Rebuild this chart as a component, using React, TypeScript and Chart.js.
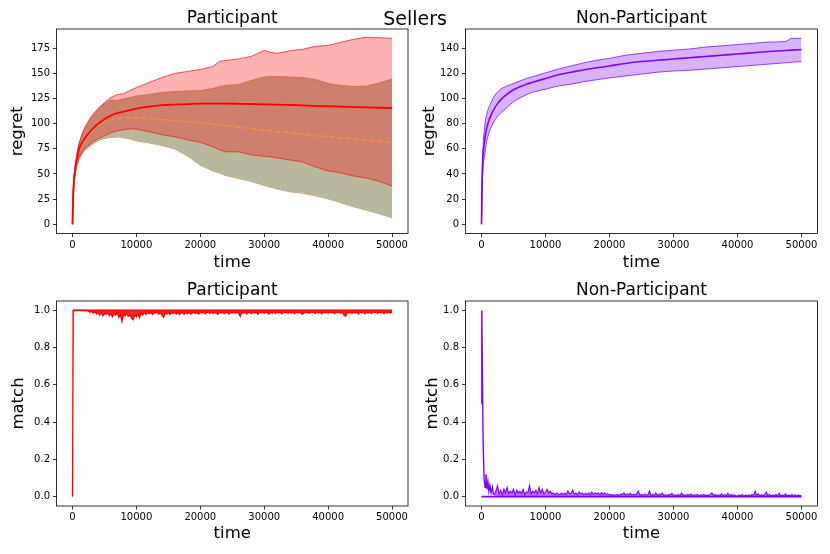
import React, { useEffect, useRef } from "react";
import { Chart, registerables } from "chart.js";

Chart.register(...registerables);

const FONT = "'DejaVu Sans', 'Liberation Sans', sans-serif";

// ---------- tick labels ----------
const timeTicks = [0, 10000, 20000, 30000, 40000, 50000];
const partRegretTicks = [0, 25, 50, 75, 100, 125, 150, 175];
const nonRegretTicks = [0, 20, 40, 60, 80, 100, 120, 140];
const matchTicks = [0, 0.2, 0.4, 0.6, 0.8, 1.0];

// ---------- Participant regret ----------
const regretTimes = [0, 100, 250, 500, 750, 1000, 1500, 2000, 3000, 4000, 5000, 6000, 7000, 8000, 9000, 10000, 12000, 14000, 16000, 18000, 20000, 22000, 23000, 24000, 26000, 28000, 30000, 31000, 32000, 34000, 36000, 38000, 40000, 42000, 44000, 46000, 48000, 50000];
const partMeanRegret = [0, 28, 45, 58, 66, 74, 81, 86, 94, 100, 104.5, 108, 110.5, 112, 113.5, 115, 117, 118.5, 119, 119.5, 120, 120, 120, 120, 119.8, 119.6, 119.3, 119.1, 119, 118.6, 118.2, 117.8, 117.4, 117, 116.6, 116.2, 115.9, 115.5];
const partUpperRegret = [0, 30, 48, 62, 72, 80, 90, 97, 108, 115, 121, 126, 129, 130, 133, 136, 141, 146, 150, 152, 154, 157, 162, 163, 164.5, 167, 173, 171, 170, 172.5, 174, 177, 178, 181, 184, 186, 185.5, 185];
const partLowerRegret = [0, 25, 42, 54, 61, 66, 72, 76, 81, 85, 88, 91, 93, 94, 95, 94.5, 92, 89, 87, 84, 81.5, 77, 74, 72, 72, 69, 67.5, 67, 66, 64, 62, 57, 53, 51, 48, 46, 42.5, 38];
const altMeanRegret = [0, 27, 44, 57, 65, 71, 78, 84, 92, 98, 102, 104, 105.5, 106, 106, 106, 105, 104, 103, 102, 101, 99.5, 99, 98, 96.5, 95, 93.5, 93, 92, 91, 89.5, 88, 87, 86, 85, 83.5, 82.5, 81];
const altUpperRegret = [0, 30, 47, 61, 71, 79, 89, 96, 106, 114, 120, 123.5, 123, 124.5, 126, 127.5, 129, 131, 132, 132.5, 133, 135, 137, 138, 139, 143, 146.5, 147, 147, 146.5, 146, 144, 140, 138, 137, 137.5, 140.5, 144.5];
const altLowerRegret = [0, 24, 40, 52, 59, 64, 70, 74, 79, 83, 85.5, 86.5, 87, 86, 85, 83, 81, 78.5, 75, 68, 59, 53, 51, 48.5, 45.5, 42.5, 38.5, 37, 35, 32.5, 31, 28.5, 25.5, 21.5, 17.5, 14, 10.5, 6.5];

// ---------- Non-Participant regret ----------
const nonTimes = [0, 100, 250, 500, 750, 1000, 1500, 2000, 2500, 3000, 4000, 5000, 6000, 7000, 8000, 10000, 12000, 14000, 16000, 18000, 20000, 22500, 25000, 27500, 30000, 32500, 35000, 37500, 40000, 42500, 45000, 47500, 48500, 50000];
const nonMeanRegret = [0, 35, 55, 67, 75, 80, 87, 92, 96, 99, 103.5, 107, 109.5, 111.5, 113, 116, 119, 121, 123, 124.5, 126, 128, 129.5, 130.5, 131.5, 132.5, 133.5, 134.5, 135.5, 136.5, 137.5, 138.3, 138.6, 139];
const nonUpperRegret = [0, 40, 62, 78, 86, 91, 97, 102, 105, 107.5, 110, 112, 114, 116, 117.5, 120.5, 123.5, 126, 128.5, 130.5, 132, 134.5, 136, 137.5, 138.5, 139.5, 141, 142, 143, 144, 145, 145.5, 148, 148];
const nonLowerRegret = [0, 28, 45, 55, 64, 70, 77, 82, 86, 88.5, 93, 97.5, 100.5, 103, 105, 107.5, 110, 111.5, 113.5, 115, 116.5, 118, 119.5, 121, 122, 122.5, 123.5, 124.5, 125.5, 126.5, 127.5, 128.5, 129, 129.5];

// ---------- match series ----------
const matchTimes = [
  2000, 2250, 2500, 2750, 3000, 3250, 3500, 3750,
  4000, 4250, 4500, 4750, 5000, 5250, 5500, 5750,
  6000, 6250, 6500, 6750, 7000, 7250, 7500, 7750,
  8000, 8250, 8500, 8750, 9000, 9250, 9500, 9750,
  10000, 10250, 10500, 10750, 11000, 11250, 11500, 11750,
  12000, 12250, 12500, 12750, 13000, 13250, 13500, 13750,
  14000, 14250, 14500, 14750, 15000, 15250, 15500, 15750,
  16000, 16250, 16500, 16750, 17000, 17250, 17500, 17750,
  18000, 18250, 18500, 18750, 19000, 19250, 19500, 19750,
  20000, 20250, 20500, 20750, 21000, 21250, 21500, 21750,
  22000, 22250, 22500, 22750, 23000, 23250, 23500, 23750,
  24000, 24250, 24500, 24750, 25000, 25250, 25500, 25750,
  26000, 26250, 26500, 26750, 27000, 27250, 27500, 27750,
  28000, 28250, 28500, 28750, 29000, 29250, 29500, 29750,
  30000, 30250, 30500, 30750, 31000, 31250, 31500, 31750,
  32000, 32250, 32500, 32750, 33000, 33250, 33500, 33750,
  34000, 34250, 34500, 34750, 35000, 35250, 35500, 35750,
  36000, 36250, 36500, 36750, 37000, 37250, 37500, 37750,
  38000, 38250, 38500, 38750, 39000, 39250, 39500, 39750,
  40000, 40250, 40500, 40750, 41000, 41250, 41500, 41750,
  42000, 42250, 42500, 42750, 43000, 43250, 43500, 43750,
  44000, 44250, 44500, 44750, 45000, 45250, 45500, 45750,
  46000, 46250, 46500, 46750, 47000, 47250, 47500, 47750,
  48000, 48250, 48500, 48750, 49000, 49250, 49500, 49750,
  50000,
];

const partMatchStartTimes = [0, 120, 1000];
const partMatchStart = [0, 1, 1];
const partMatch = [
  0.999, 0.998, 0.997, 0.99, 0.995, 0.985, 0.993, 0.98,
  0.99, 0.975, 0.988, 0.97, 0.985, 0.978, 0.99, 0.972,
  0.984, 0.965, 0.982, 0.975, 0.988, 0.962, 0.978, 0.94,
  0.98, 0.97, 0.985, 0.968, 0.975, 0.96, 0.95, 0.978,
  0.965, 0.98, 0.96, 0.985, 0.975, 0.99, 0.978, 0.988,
  0.982, 0.99, 0.978, 0.988, 0.985, 0.99, 0.98, 0.987,
  0.975, 0.962, 0.985, 0.98, 0.99, 0.978, 0.988, 0.983,
  0.99, 0.98, 0.987, 0.978, 0.99, 0.984, 0.979, 0.99,
  0.982, 0.99, 0.98, 0.986, 0.99, 0.983, 0.988, 0.98,
  0.99, 0.985, 0.99, 0.982, 0.988, 0.99, 0.984, 0.99,
  0.983, 0.99, 0.985, 0.978, 0.99, 0.986, 0.99, 0.982,
  0.988, 0.99, 0.98, 0.99, 0.986, 0.99, 0.984, 0.99,
  0.985, 0.968, 0.99, 0.984, 0.99, 0.98, 0.988, 0.99,
  0.982, 0.99, 0.986, 0.99, 0.979, 0.99, 0.987, 0.99,
  0.984, 0.99, 0.988, 0.98, 0.99, 0.986, 0.99, 0.983,
  0.99, 0.987, 0.99, 0.981, 0.99, 0.988, 0.99, 0.984,
  0.99, 0.986, 0.99, 0.982, 0.99, 0.988, 0.99, 0.985,
  0.978, 0.99, 0.987, 0.99, 0.984, 0.99, 0.988, 0.99,
  0.983, 0.99, 0.986, 0.99, 0.98, 0.99, 0.988, 0.99,
  0.985, 0.99, 0.987, 0.99, 0.982, 0.99, 0.988, 0.99,
  0.984, 0.99, 0.975, 0.968, 0.99, 0.986, 0.99, 0.983,
  0.99, 0.985, 0.99, 0.98, 0.99, 0.987, 0.99, 0.982,
  0.99, 0.986, 0.99, 0.983, 0.99, 0.988, 0.99, 0.984,
  0.99, 0.987, 0.99, 0.982, 0.99, 0.986, 0.99, 0.985,
  0.99,
];
const partMatchUpperTimes = [120, 50000];
const partMatchUpper = [1, 1];

const nonMatchEarlyTimes = [0, 50, 250, 400, 550, 700, 850, 1000, 1150, 1300, 1500, 1700, 1850, 2000];
const nonMatchEarly = [0.5, 1.0, 0.3, 0.1, 0.05, 0.12, 0.04, 0.08, 0.03, 0.06, 0.02, 0.05, 0.015, 0.01];
const nonMatch = [
  0.01, 0.03, 0.06, 0.015, 0.035, 0.01, 0.04, 0.02,
  0.05, 0.015, 0.03, 0.02, 0.04, 0.01, 0.035, 0.02,
  0.03, 0.015, 0.04, 0.01, 0.025, 0.02, 0.06, 0.015,
  0.03, 0.02, 0.035, 0.015, 0.05, 0.02, 0.04, 0.015,
  0.025, 0.04, 0.02, 0.03, 0.015, 0.02, 0.01, 0.02,
  0.015, 0.01, 0.02, 0.012, 0.018, 0.01, 0.03, 0.015,
  0.02, 0.035, 0.012, 0.02, 0.01, 0.025, 0.015, 0.02,
  0.01, 0.018, 0.012, 0.02, 0.01, 0.025, 0.012, 0.02,
  0.015, 0.02, 0.01, 0.022, 0.012, 0.02, 0.01, 0.015,
  0.008, 0.012, 0.006, 0.01, 0.008, 0.012, 0.006, 0.015,
  0.01, 0.02, 0.008, 0.015, 0.01, 0.018, 0.008, 0.012,
  0.01, 0.015, 0.03, 0.008, 0.012, 0.006, 0.015, 0.008,
  0.01, 0.03, 0.006, 0.012, 0.008, 0.02, 0.006, 0.015,
  0.008, 0.02, 0.006, 0.01, 0.005, 0.012, 0.008, 0.018,
  0.006, 0.01, 0.005, 0.012, 0.006, 0.02, 0.008, 0.01,
  0.005, 0.012, 0.006, 0.015, 0.005, 0.01, 0.008, 0.012,
  0.005, 0.01, 0.006, 0.012, 0.005, 0.008, 0.006, 0.012,
  0.02, 0.006, 0.012, 0.005, 0.01, 0.006, 0.015, 0.005,
  0.01, 0.006, 0.018, 0.005, 0.012, 0.006, 0.01, 0.005,
  0.003, 0.008, 0.004, 0.012, 0.003, 0.008, 0.005, 0.01,
  0.004, 0.012, 0.005, 0.03, 0.006, 0.015, 0.004, 0.01,
  0.005, 0.012, 0.025, 0.006, 0.012, 0.004, 0.01, 0.005,
  0.012, 0.004, 0.018, 0.005, 0.01, 0.004, 0.015, 0.005,
  0.008, 0.004, 0.012, 0.005, 0.01, 0.004, 0.008, 0.005,
  0.008,
];
const nonMatchLowerTimes = [0, 50000];
const nonMatchLower = [0, 0];

// ---------- helpers ----------
const pts = (xs: number[], ys: number[]) => xs.map((x, i) => ({ x, y: ys[i] }));

const framePlugin = {
  id: "frame",
  afterDraw(chart: any) {
    const { ctx, chartArea: a } = chart;
    ctx.save();
    ctx.strokeStyle = "#000";
    ctx.lineWidth = 0.8;
    ctx.strokeRect(a.left, a.top, a.right - a.left, a.bottom - a.top);
    ctx.restore();
  },
};

const tickGrid = {
  display: true,
  drawOnChartArea: false,
  drawTicks: true,
  tickLength: 3.5,
  tickWidth: 0.8,
  tickColor: "#000",
  color: "#000",
};

function xScale(axisH: number, titlePadBottom: number) {
  return {
    type: "linear",
    min: -2500,
    max: 52500,
    afterBuildTicks: (s: any) => {
      s.ticks = timeTicks.map((v) => ({ value: v }));
    },
    afterFit: (s: any) => {
      s.height = axisH;
      s.paddingLeft = 0;
      s.paddingRight = 0;
    },
    ticks: {
      callback: (v: any) => String(v),
      font: { family: FONT, size: 10 },
      color: "#000",
      padding: 2,
      autoSkip: false,
      maxRotation: 0,
    },
    grid: tickGrid,
    border: { display: false },
    title: {
      display: true,
      text: "time",
      font: { family: FONT, size: 16.5 },
      color: "#000",
      padding: { top: 0, bottom: titlePadBottom },
    },
  };
}

function yScale(min: number, max: number, ticks: number[], fmt: (v: number) => string, axisW: number, label: string, titlePadTop: number) {
  return {
    type: "linear",
    min,
    max,
    afterBuildTicks: (s: any) => {
      s.ticks = ticks.map((v) => ({ value: v }));
    },
    afterFit: (s: any) => {
      s.width = axisW;
      s.paddingTop = 0;
      s.paddingBottom = 0;
    },
    ticks: {
      callback: (v: any) => fmt(Number(v)),
      font: { family: FONT, size: 10 },
      color: "#000",
      padding: 3,
      autoSkip: false,
    },
    grid: tickGrid,
    border: { display: false },
    title: {
      display: true,
      text: label,
      font: { family: FONT, size: 16.5 },
      color: "#000",
      padding: { top: titlePadTop, bottom: 0 },
    },
  };
}

function baseOptions(title: string, titlePad: { top: number; bottom: number }, rightPad: number, x: any, y: any) {
  return {
    responsive: false,
    animation: false,
    events: [],
    layout: { padding: { left: 0, right: rightPad, top: 0, bottom: 0 } },
    plugins: {
      legend: { display: false },
      tooltip: { enabled: false },
      title: {
        display: true,
        text: title,
        fullSize: false,
        color: "#000",
        font: { family: FONT, size: 17, weight: "normal" },
        padding: titlePad,
      },
    },
    elements: { point: { radius: 0 }, line: { tension: 0 } },
    scales: { x, y },
  };
}

const RED = "#ff0000";
const PURPLE = "#7f00ff";

function partRegretConfig(): any {
  return {
    type: "line",
    data: {
      datasets: [
        { data: pts(regretTimes, partMeanRegret), borderColor: RED, borderWidth: 1.8, fill: false, order: 1, cubicInterpolationMode: "monotone" },
        { data: pts(regretTimes, altMeanRegret), borderColor: "#ff8c3a", borderWidth: 1.5, borderDash: [5.5, 2.4], fill: false, order: 2, cubicInterpolationMode: "monotone" },
        { data: pts(regretTimes, partUpperRegret), borderColor: "rgba(240,40,40,0.8)", borderWidth: 1, backgroundColor: "rgba(255,0,0,0.3)", fill: "+1", order: 5 },
        { data: pts(regretTimes, partLowerRegret), borderColor: "rgba(240,40,40,0.8)", borderWidth: 1, fill: false, order: 5 },
        { data: pts(regretTimes, altUpperRegret), borderColor: "rgba(200,155,105,0.9)", borderWidth: 1.2, backgroundColor: "rgb(184,184,157)", fill: "+1", order: 9 },
        { data: pts(regretTimes, altLowerRegret), borderColor: "rgba(200,155,105,0.9)", borderWidth: 1.2, fill: false, order: 9 },
      ],
    },
    options: baseOptions(
      "Participant",
      { top: 7.9, bottom: 0.7 },
      7,
      xScale(43.5, 4.5),
      yScale(-9.25, 194.25, partRegretTicks, (v) => String(v), 56.5, "regret", 8)
    ),
    plugins: [framePlugin],
  };
}

function nonRegretConfig(): any {
  return {
    type: "line",
    data: {
      datasets: [
        { data: pts(nonTimes, nonMeanRegret), borderColor: PURPLE, borderWidth: 1.6, fill: false, order: 1, cubicInterpolationMode: "monotone" },
        { data: pts(nonTimes, nonUpperRegret), borderColor: "rgba(127,0,255,0.75)", borderWidth: 1, backgroundColor: "rgba(127,0,255,0.3)", fill: "+1", order: 5, cubicInterpolationMode: "monotone" },
        { data: pts(nonTimes, nonLowerRegret), borderColor: "rgba(127,0,255,0.75)", borderWidth: 1, fill: false, order: 5, cubicInterpolationMode: "monotone" },
      ],
    },
    options: baseOptions(
      "Non-Participant",
      { top: 7.9, bottom: 0.7 },
      12.5,
      xScale(43.5, 4.5),
      yScale(-7.4, 155.4, nonRegretTicks, (v) => String(v), 50.5, "regret", 4.5)
    ),
    plugins: [framePlugin],
  };
}

function partMatchConfig(): any {
  return {
    type: "line",
    data: {
      datasets: [
        { data: pts(partMatchStartTimes.concat(matchTimes), partMatchStart.concat(partMatch)), borderColor: RED, borderWidth: 1.3, backgroundColor: "rgba(255,0,0,0.85)", fill: { value: 1 }, order: 1 },
        { data: pts(partMatchUpperTimes, partMatchUpper), borderColor: RED, borderWidth: 1.8, fill: false, order: 2 },
      ],
    },
    options: baseOptions(
      "Participant",
      { top: 3.2, bottom: 0.4 },
      7,
      xScale(48, 10.5),
      yScale(-0.05, 1.05, matchTicks, (v) => v.toFixed(1), 56.5, "match", 8.8)
    ),
    plugins: [framePlugin],
  };
}

function nonMatchConfig(): any {
  return {
    type: "line",
    data: {
      datasets: [
        { data: pts(nonMatchEarlyTimes, nonMatchEarly), borderColor: PURPLE, borderWidth: 1.4, fill: false, order: 1 },
        { data: pts(matchTimes, nonMatch), borderColor: PURPLE, borderWidth: 1.1, backgroundColor: "rgba(127,0,255,0.55)", fill: { value: 0 }, order: 2 },
        { data: pts(nonMatchLowerTimes, nonMatchLower), borderColor: PURPLE, borderWidth: 1.8, fill: false, order: 3 },
      ],
    },
    options: baseOptions(
      "Non-Participant",
      { top: 3.2, bottom: 0.4 },
      12.5,
      xScale(48, 10.5),
      yScale(-0.05, 1.05, matchTicks, (v) => v.toFixed(1), 50.5, "match", 7.6)
    ),
    plugins: [framePlugin],
  };
}

function ChartBox({ left, top, make }: { left: number; top: number; make: () => any }) {
  const ref = useRef<HTMLCanvasElement>(null);
  useEffect(() => {
    const chart = new Chart(ref.current as HTMLCanvasElement, make());
    return () => chart.destroy();
  }, [make]);
  return (
    <canvas
      ref={ref}
      width={415}
      height={277}
      style={{ position: "absolute", left, top, width: 415, height: 277 }}
    />
  );
}

export default function App() {
  return (
    <div style={{ position: "absolute", left: 0, top: 0, width: 830, height: 554, background: "#fff", overflow: "hidden" }}>
      <ChartBox left={0} top={0} make={partRegretConfig} />
      <ChartBox left={415} top={0} make={nonRegretConfig} />
      <ChartBox left={0} top={277} make={partMatchConfig} />
      <ChartBox left={415} top={277} make={nonMatchConfig} />
      <div
        style={{
          position: "absolute",
          left: 0,
          top: 9,
          width: 830,
          textAlign: "center",
          fontFamily: FONT,
          fontSize: 19,
          lineHeight: "19px",
          color: "#000",
        }}
      >
        Sellers
      </div>
    </div>
  );
}
